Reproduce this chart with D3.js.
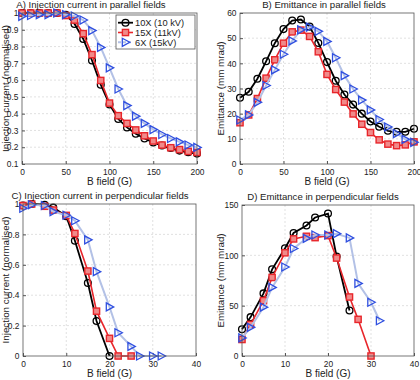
<!DOCTYPE html>
<html>
<head>
<meta charset="utf-8">
<script src="https://cdn.jsdelivr.net/npm/d3@7"></script>
<style>
  body { margin: 0; background: #fff; }
  text { font-family: "Liberation Sans", Arial, sans-serif; fill: #222; }
</style>
</head>
<body>
<div id="chart"></div>
<script>
const W = 420, H = 380;

// A) injection current, parallel fields
const fieldPar = [0,10,20,30,40,50,60,70,80,90,100,110,120,130,140,150,160,170,180,190,200];
const injPar10X = [1.0,1.0,1.0,1.0,1.0,0.99,0.935,0.845,0.717,0.573,0.455,0.368,0.318,0.28,0.252,0.228,0.21,0.195,0.18,0.17,0.162];
const injPar15X = [1.0,1.0,1.0,1.0,1.0,0.985,0.958,0.877,0.752,0.598,0.463,0.388,0.342,0.303,0.268,0.237,0.213,0.197,0.186,0.175,0.169];
const injPar6X  = [0.98,0.985,0.99,0.99,1.0,0.99,0.982,0.958,0.895,0.795,0.673,0.547,0.448,0.385,0.342,0.305,0.276,0.252,0.232,0.213,0.199];

// B) emittance, parallel fields
const emiPar10X = [26.3,28.7,33.9,40.8,48.0,53.6,57.0,57.4,54.6,48.1,40.5,33.1,27.6,23.6,20.0,16.9,14.8,13.2,12.8,12.8,14.0];
const emiPar15X = [16.4,19.5,26.0,34.1,41.4,48.0,52.5,53.2,50.7,44.6,35.6,29.6,24.6,19.9,15.8,12.5,9.6,7.9,7.3,7.6,8.8];
const emiPar6X  = [17.5,19.5,24.5,31.2,37.4,43.6,48.9,53.3,54.4,52.7,48.7,42.2,35.1,29.8,25.4,21.5,17.7,14.7,12.1,9.8,8.6];

// C) injection current, perpendicular fields
const fieldPerp10X = [0,2,5,7,10,12,15,17,20];
const injPerp10X = [0.99,1.0,0.995,0.976,0.92,0.758,0.48,0.23,0];
const fieldPerp15X = [0,2,5,7,10,12,15,17,20,22,25];
const injPerp15X = [0.99,1.0,0.985,0.96,0.925,0.806,0.559,0.295,0.116,0,0];
const fieldPerp6X = [0,2,5,7,10,12,15,17,20,22,25,27,30,32];
const injPerp6X = [0.972,0.995,0.99,0.95,0.926,0.89,0.764,0.555,0.323,0.153,0.063,0,0,0];

// D) emittance, perpendicular fields
const fieldPerpEmi10X = [0,2,5,7,10,12,15,17,20,22,25];
const emiPerp10X = [26.5,38.6,62.2,86.1,107.1,122.2,129.7,137.6,141.5,98.9,45.2];
const fieldPerpEmi15X = [0,2,5,7,10,12,15,17,20,22,25,27,30];
const emiPerp15X = [16.4,31.4,55.0,78.0,102.5,116.3,118.9,117.6,119.6,97.3,58.6,36.4,0];
const fieldPerpEmi6X = [0,2,5,7,10,12,15,17,20,22,25,27,30,32];
const emiPerp6X = [18.0,28.5,48.5,68.1,88.4,106.8,116.9,120.2,120.2,121.5,117.3,72.1,53.4,35.0];

const seriesNames = ["10X (10 kV)", "15X (11kV)", "6X (15kV)"];

// tick values
const ticksFieldPar = [0,50,100,150,200];
const ticksFieldPerp = [0,10,20,30,40];
const ticksInjPar = [0.1,0.2,0.3,0.4,0.5,0.6,0.7,0.8,0.9,1];
const ticksEmiPar = [0,10,20,30,40,50,60];
const ticksInjPerp = [0,0.2,0.4,0.6,0.8,1];
const ticksEmiPerp = [0,50,100,150];

const styles = [
  { line: "#000", lw: 1.8, marker: "circle", mk: "#000" },
  { line: "#e8262b", lw: 1.6, marker: "square", mk: "#e8262b" },
  { line: "#b3c1e6", lw: 2, marker: "triangle", mk: "#2f4fe0" }
];

const svg = d3.select("#chart").append("svg")
  .attr("width", W).attr("height", H);

function drawMarker(g, type, color, x, y) {
  if (type === "circle") {
    g.append("circle").attr("cx", x).attr("cy", y).attr("r", 3.4)
      .attr("fill", "none").attr("stroke", color).attr("stroke-width", 1.3);
  } else if (type === "square") {
    g.append("rect").attr("x", x - 3.1).attr("y", y - 3.1)
      .attr("width", 6.2).attr("height", 6.2)
      .attr("fill", "#f08a8a").attr("stroke", color).attr("stroke-width", 1.4);
  } else {
    g.append("path")
      .attr("d", `M${x - 3.2},${y - 4}L${x + 4.2},${y}L${x - 3.2},${y + 4}Z`)
      .attr("fill", "none").attr("stroke", color).attr("stroke-width", 1.3);
  }
}

function drawPanel(cfg) {
  const { left, right, top, bottom } = cfg.box;
  const x = d3.scaleLinear().domain(cfg.xDomain).range([left, right]);
  const y = d3.scaleLinear().domain(cfg.yDomain).range([bottom, top]);
  const g = svg.append("g");

  // grid
  g.append("g").selectAll("line").data(cfg.xTicks.slice(1, -1)).enter().append("line")
    .attr("x1", d => x(d)).attr("x2", d => x(d))
    .attr("y1", top).attr("y2", bottom)
    .attr("stroke", "#d9d9d9").attr("stroke-width", 0.8).attr("stroke-dasharray", "2,2");
  g.append("g").selectAll("line").data(cfg.yTicks.slice(1, -1)).enter().append("line")
    .attr("x1", left).attr("x2", right)
    .attr("y1", d => y(d)).attr("y2", d => y(d))
    .attr("stroke", "#d9d9d9").attr("stroke-width", 0.8).attr("stroke-dasharray", "2,2");

  // axes
  const xAxis = d3.axisBottom(x).tickValues(cfg.xTicks).tickSize(-3).tickPadding(5);
  const yAxis = d3.axisLeft(y).tickValues(cfg.yTicks).tickSize(-3).tickPadding(3.5)
    .tickFormat(d3.format(""));
  const xg = g.append("g").attr("transform", `translate(0,${bottom})`).call(xAxis);
  const yg = g.append("g").attr("transform", `translate(${left},0)`).call(yAxis);
  [xg, yg].forEach(a => {
    a.select(".domain").remove();
    a.selectAll(".tick line").attr("stroke", "#555");
    a.selectAll("text").attr("font-size", 8.4).attr("fill", "#222")
      .attr("font-family", "'Liberation Sans', Arial, sans-serif");
  });

  // data
  cfg.series.forEach((s, i) => {
    const st = styles[i];
    const pts = s.xs.map((v, j) => [x(v), y(s.ys[j])]);
    g.append("path").attr("d", d3.line()(pts))
      .attr("fill", "none").attr("stroke", st.line).attr("stroke-width", st.lw);
    const mg = g.append("g");
    pts.forEach(p => drawMarker(mg, st.marker, st.mk, p[0], p[1]));
  });

  // frame
  g.append("rect").attr("x", left).attr("y", top)
    .attr("width", right - left).attr("height", bottom - top)
    .attr("fill", "none").attr("stroke", "#555").attr("stroke-width", 0.8);

  // labels
  svg.append("text").attr("x", cfg.titleX).attr("y", top - 5.5)
    .attr("text-anchor", "middle").attr("font-size", 9.6).text(cfg.title);
  svg.append("text").attr("x", (left + right) / 2).attr("y", bottom + 21)
    .attr("text-anchor", "middle").attr("font-size", 10).text("B field (G)");
  svg.append("text")
    .attr("transform", `translate(${cfg.yLabelX},${(top + bottom) / 2}) rotate(-90)`)
    .attr("text-anchor", "middle").attr("font-size", 9.8).text(cfg.yLabel);

  return { g, x, y };
}

drawPanel({
  box: { left: 22, right: 197, top: 13, bottom: 164 },
  xDomain: [0, 200], yDomain: [0.1, 1],
  xTicks: ticksFieldPar, yTicks: ticksInjPar,
  title: "A)  Injection current in parallel fields", titleX: 91,
  yLabel: "Injection current (normalised)", yLabelX: 8.5,
  series: [
    { xs: fieldPar, ys: injPar10X },
    { xs: fieldPar, ys: injPar15X },
    { xs: fieldPar, ys: injPar6X }
  ]
});

drawPanel({
  box: { left: 240, right: 414, top: 13, bottom: 164 },
  xDomain: [0, 200], yDomain: [0, 60],
  xTicks: ticksFieldPar, yTicks: ticksEmiPar,
  title: "B) Emittance in parallel fields", titleX: 324,
  yLabel: "Emittance (mm mrad)", yLabelX: 224,
  series: [
    { xs: fieldPar, ys: emiPar10X },
    { xs: fieldPar, ys: emiPar15X },
    { xs: fieldPar, ys: emiPar6X }
  ]
});

drawPanel({
  box: { left: 23, right: 196, top: 204, bottom: 356 },
  xDomain: [0, 40], yDomain: [0, 1],
  xTicks: ticksFieldPerp, yTicks: ticksInjPerp,
  title: "C) Injection current in perpendicular fields", titleX: 100,
  yLabel: "Injection current (normalised)", yLabelX: 8.5,
  series: [
    { xs: fieldPerp10X, ys: injPerp10X },
    { xs: fieldPerp15X, ys: injPerp15X },
    { xs: fieldPerp6X, ys: injPerp6X }
  ]
});

drawPanel({
  box: { left: 242, right: 414, top: 205, bottom: 356 },
  xDomain: [0, 40], yDomain: [0, 150],
  xTicks: ticksFieldPerp, yTicks: ticksEmiPerp,
  title: "D) Emittance in perpendicular fields", titleX: 323,
  yLabel: "Emittance (mm mrad)", yLabelX: 224,
  series: [
    { xs: fieldPerpEmi10X, ys: emiPerp10X },
    { xs: fieldPerpEmi15X, ys: emiPerp15X },
    { xs: fieldPerpEmi6X, ys: emiPerp6X }
  ]
});

// legend in panel A
const leg = svg.append("g");
leg.append("rect").attr("x", 116).attr("y", 15).attr("width", 79).attr("height", 34)
  .attr("fill", "#fff").attr("stroke", "#555").attr("stroke-width", 0.8);
seriesNames.forEach((name, i) => {
  const st = styles[i];
  const cy = 22.7 + i * 9.8;
  leg.append("line").attr("x1", 118).attr("x2", 133).attr("y1", cy).attr("y2", cy)
    .attr("stroke", st.line).attr("stroke-width", st.lw)
    .attr("stroke-dasharray", i === 2 ? "3,2" : null);
  drawMarker(leg, st.marker, st.mk, 125.5, cy);
  leg.append("text").attr("x", 135).attr("y", cy + 3.2)
    .attr("font-size", 9.3).text(name);
});
</script>
</body>
</html>
